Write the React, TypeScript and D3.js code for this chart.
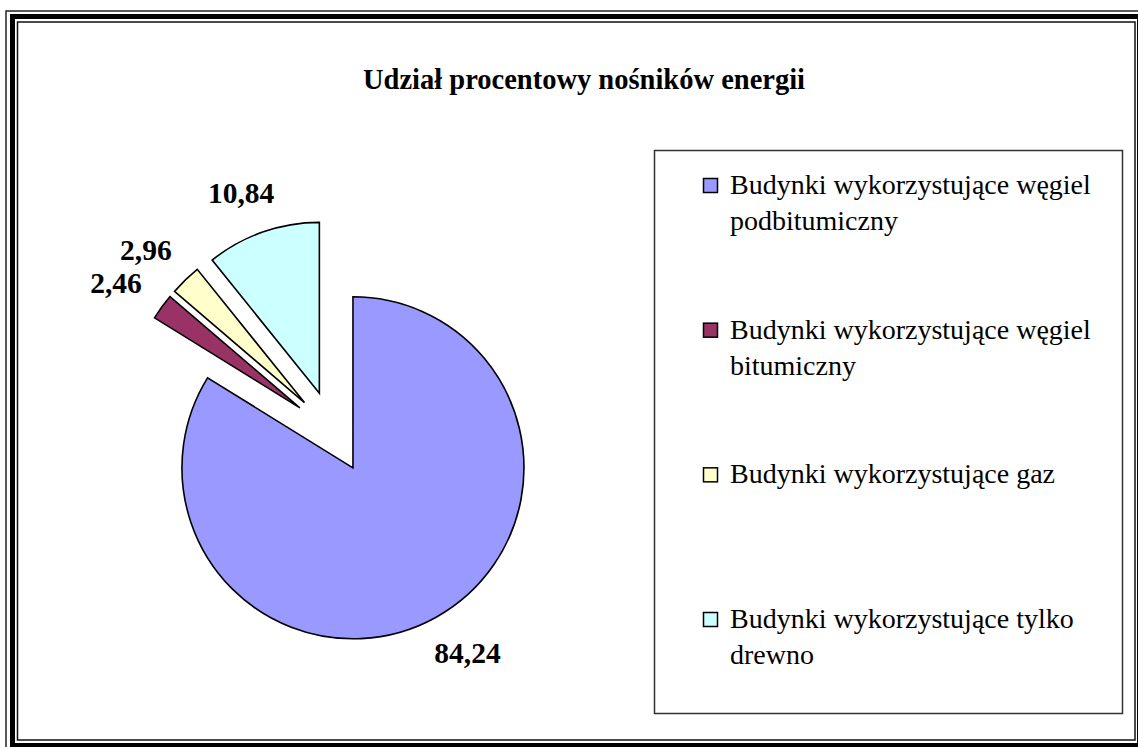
import React, { useEffect, useRef } from 'react';
import * as d3 from 'd3';

const categories = [
  'Budynki wykorzystujące węgiel podbitumiczny',
  'Budynki wykorzystujące węgiel bitumiczny',
  'Budynki wykorzystujące gaz',
  'Budynki wykorzystujące tylko drewno',
];
const shares = [84.24, 2.46, 2.96, 10.84];
const shareLabels = ['84,24', '2,46', '2,96', '10,84'];
const colors = ['#9999FF', '#993366', '#FFFFCC', '#CCFFFF'];
const title = 'Udział procentowy nośników energii';

const W = 1138;
const H = 747;
const FONT = '"Liberation Serif", "Times New Roman", serif';

const App = () => {
  const ref = useRef<SVGSVGElement>(null);

  useEffect(() => {
    const svg = d3.select(ref.current);
    svg.selectAll('*').remove();

    // frame: thin outer line, thick black band, thin inner line
    svg.append('rect').attr('x', 6).attr('y', 11).attr('width', W + 10).attr('height', H + 10)
      .attr('fill', 'none').attr('stroke', '#222').attr('stroke-width', 1.5);
    svg.append('rect').attr('x', 12.5).attr('y', 16.5).attr('width', 1127).attr('height', 729)
      .attr('fill', 'none').attr('stroke', '#000').attr('stroke-width', 5);
    svg.append('rect').attr('x', 17.5).attr('y', 22).attr('width', 1117.5).attr('height', 718)
      .attr('fill', '#fff').attr('stroke', '#111').attr('stroke-width', 1.5);

    svg.append('text')
      .attr('x', 584).attr('y', 89)
      .attr('text-anchor', 'middle')
      .attr('font-family', FONT).attr('font-weight', 'bold').attr('font-size', 28.5)
      .text(title);

    // pie, every slice pulled out along its mid angle
    const cx = 333;
    const cy = 432;
    const r = 171;
    const explode = 41;
    const labelR = 202;

    const pie = d3.pie<number>().sort(null).value(d => d);
    const arcs = pie(shares);
    const arc = d3.arc<d3.PieArcDatum<number>>().innerRadius(0).outerRadius(r);

    const g = svg.append('g').attr('transform', `translate(${cx},${cy})`);

    arcs.forEach((a, i) => {
      const mid = (a.startAngle + a.endAngle) / 2;
      const ux = Math.sin(mid);
      const uy = -Math.cos(mid);
      const sg = g.append('g').attr('transform', `translate(${ux * explode},${uy * explode})`);
      sg.append('path')
        .attr('d', arc(a) as string)
        .attr('fill', colors[i])
        .attr('stroke', '#000')
        .attr('stroke-width', 1.6)
        .attr('stroke-linejoin', 'miter');

      const t = sg.append('text')
        .attr('font-family', FONT).attr('font-weight', 'bold').attr('font-size', 29.5)
        .attr('text-anchor', 'middle')
        .text(shareLabels[i]);
      const bb = (t.node() as SVGTextElement).getBBox();
      const lx = ux * labelR + ux * bb.width / 2;
      const ly = uy * labelR + uy * 10;
      t.attr('x', lx).attr('y', ly + 10);
    });

    // legend
    svg.append('rect').attr('x', 654.5).attr('y', 150.5).attr('width', 468).attr('height', 563)
      .attr('fill', 'none').attr('stroke', '#333').attr('stroke-width', 1.5);

    const ly = d3.scalePoint<string>().domain(categories).range([194, 628]);
    const maxW = 380;

    categories.forEach((c, i) => {
      const y = ly(c) as number;
      svg.append('rect')
        .attr('x', 703.5).attr('y', y - 15.5).attr('width', 14).attr('height', 14)
        .attr('fill', colors[i]).attr('stroke', '#000').attr('stroke-width', 1.5);
      const t = svg.append('text')
        .attr('x', 730).attr('y', y)
        .attr('font-family', FONT).attr('font-size', 28).attr('fill', '#000');
      // wrap words to the legend width
      const words = c.split(' ');
      let line: string[] = [];
      let ts = t.append('tspan').attr('x', 730).attr('dy', 0);
      words.forEach(w => {
        line.push(w);
        ts.text(line.join(' '));
        if ((ts.node() as SVGTSpanElement).getComputedTextLength() > maxW && line.length > 1) {
          line.pop();
          ts.text(line.join(' '));
          line = [w];
          ts = t.append('tspan').attr('x', 730).attr('dy', 36).text(w);
        }
      });
    });
  }, []);

  return (
    <svg
      ref={ref}
      width={W}
      height={H}
      style={{ position: 'absolute', left: 0, top: 0, display: 'block', background: '#fff' }}
    />
  );
};

export default App;
